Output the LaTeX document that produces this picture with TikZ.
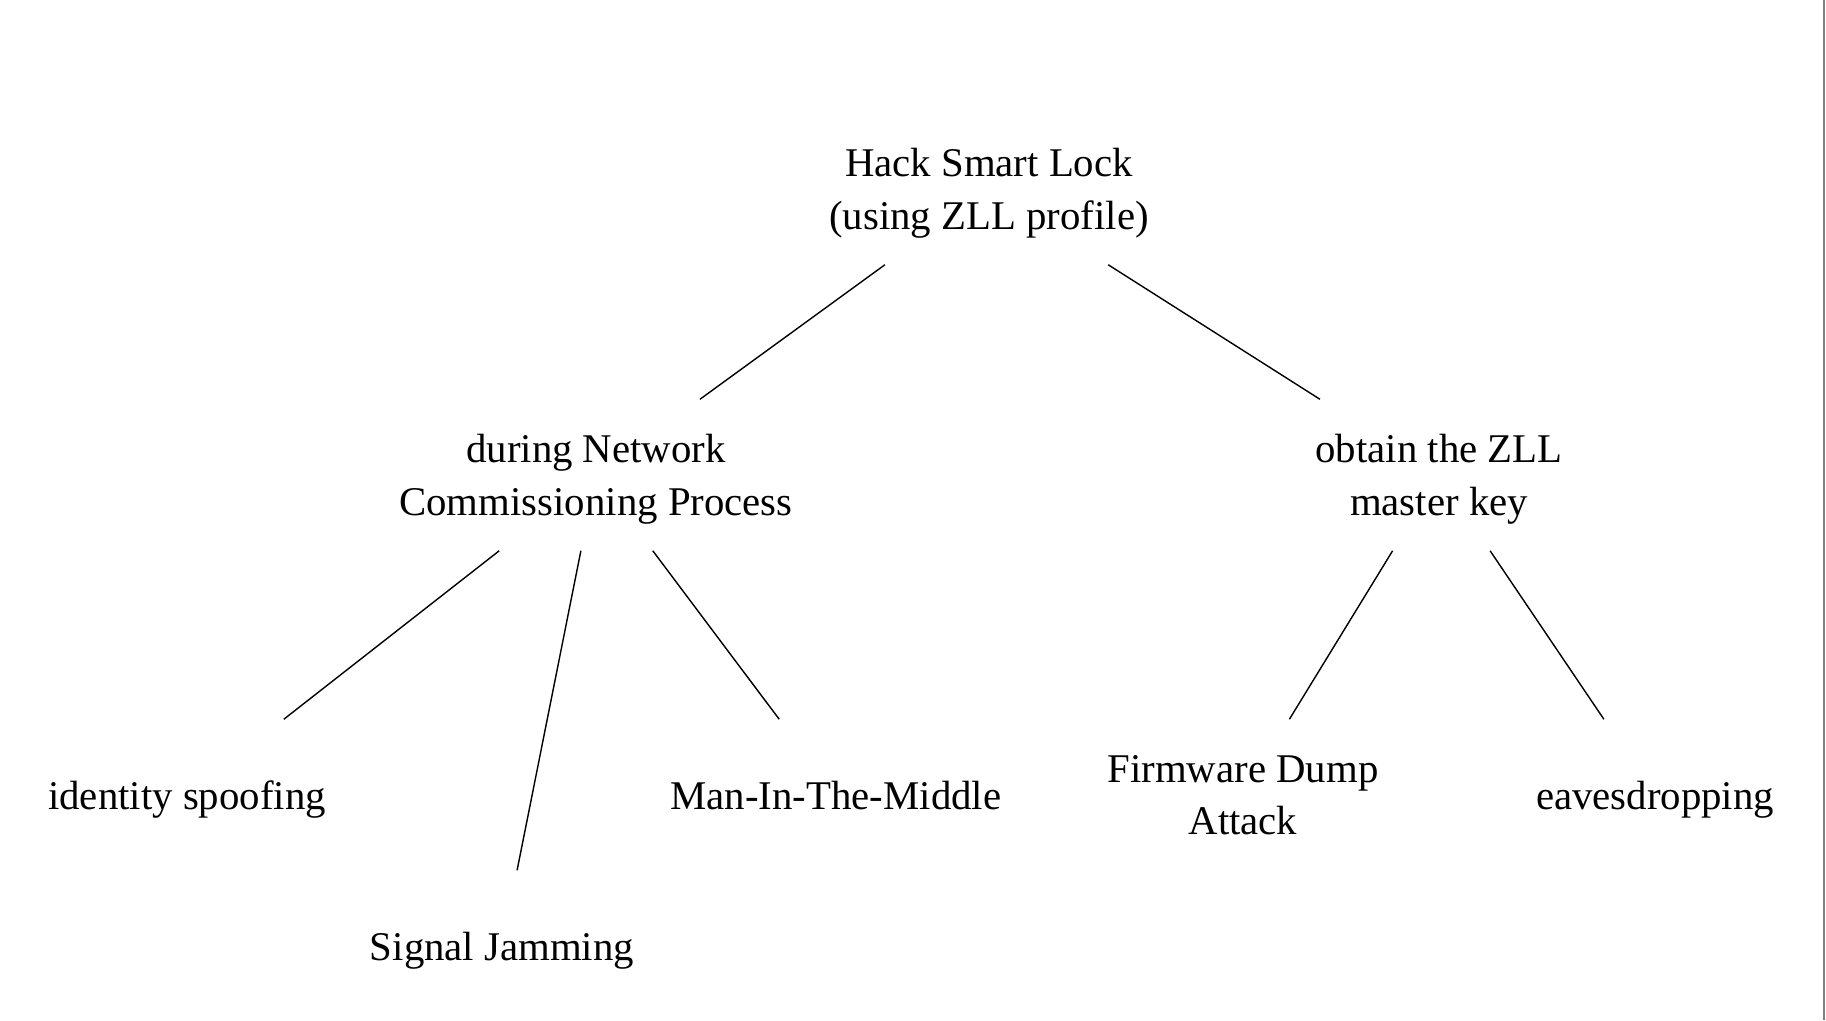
\documentclass[tikz,border=0pt]{standalone}
\usepackage{fontspec}
\setmainfont{Liberation Serif}

\begin{document}
\begin{tikzpicture}[x=0.01cm, y=-0.01cm,
    goal/.style={minimum height=1.5cm, inner xsep=0.2cm, inner ysep=0pt, align=center,
                 text depth=0cm, font=\fontsize{11.6}{15}\selectfont}]

    \useasboundingbox (0,0) rectangle (1826,1020);

    \node[goal] (hack) at (989,189) {Hack Smart Lock\\(using ZLL profile)};

    \node[goal] (commissioning) at (596,475) {during Network\\Commissioning Process};
    \node[goal] (masterkey) at (1439,475) {obtain the ZLL\\master key};

    \node[goal] (spoofing) at (187,795) {identity spoofing};
    \node[goal] (jamming) at (502,946) {Signal Jamming};
    \node[goal] (mitm) at (836,795) {Man-In-The-Middle};
    \node[goal] (firmware) at (1243,795) {Firmware Dump\\Attack};
    \node[goal] (eavesdropping) at (1655,795) {eavesdropping};

    \draw (hack) -- (commissioning);
    \draw (hack) -- (masterkey);

    \draw (commissioning) -- (spoofing);
    \draw (commissioning) -- (jamming);
    \draw (commissioning) -- (mitm);

    \draw (masterkey) -- (firmware);
    \draw (masterkey) -- (eavesdropping);

    % edge of the page
    \draw[gray, line width=0.6pt] (1824,0) -- (1824,1020);

\end{tikzpicture}
\end{document}
